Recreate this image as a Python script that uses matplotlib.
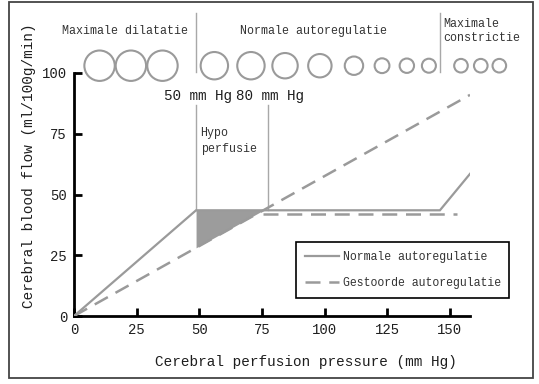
import matplotlib
matplotlib.use("Agg")
import matplotlib.pyplot as plt
import numpy as np
from matplotlib.patches import Rectangle

# ── data ──────────────────────────────────────────────────────────────────────
NORMAL_X = [0, 48.7, 146, 158]
NORMAL_Y = [0, 43.5, 43.5, 58.5]
IMPAIRED_X = [0, 158]
IMPAIRED_Y = [0, 91]
IMPAIRED_PLATEAU_X = [75.5, 153]
IMPAIRED_PLATEAU_Y = [41.8, 41.8]
HYPO_X = [48.7, 77.3]          # 50 / 80 mm Hg markers
HYPO_TOP = 87.0
SEPARATOR_X = [48.7, 146]
VESSEL_X = [10.2, 22.7, 35.3, 56.0, 70.6, 84.2, 98.1, 111.7, 122.9, 132.8,
            141.6, 154.4, 162.3, 169.7]
VESSEL_R = [16, 16, 16, 14.5, 14.5, 13.5, 12.5, 10, 8.2, 8, 7.8, 7.6, 7.6, 7.6]
XTICKS = [0, 25, 50, 75, 100, 125, 150]
YTICKS = [0, 25, 50, 75, 100]

GREY = "#9a9a9a"
INK = "#1e1e1e"
MONO = "Liberation Mono"

W, H = 539, 384


def px(x, y):
    """figure pixel (from top-left) -> figure fraction"""
    return x / W, 1 - y / H


def main() -> None:
    fig = plt.figure(figsize=(W / 100, H / 100), dpi=100, facecolor="white")
    ax = fig.add_axes([74 / W, 1 - 316 / H, 396 / W, 243 / H])
    ax.set_xlim(0, 158)
    ax.set_ylim(0, 100)

    # curves
    ax.plot(NORMAL_X, NORMAL_Y, color=GREY, lw=1.6, solid_joinstyle="miter",
            label="Normale autoregulatie", zorder=3)
    ax.plot(IMPAIRED_X, IMPAIRED_Y, color=GREY, lw=1.8, dashes=(6, 3.5),
            label="Gestoorde autoregulatie", zorder=3)
    ax.plot(IMPAIRED_PLATEAU_X, IMPAIRED_PLATEAU_Y, color=GREY, lw=1.8,
            dashes=(6, 3.5), zorder=3)

    # hypoperfusion wedge
    xs = np.linspace(HYPO_X[0], 76, 30)
    low = np.interp(xs, IMPAIRED_X, IMPAIRED_Y)
    top = np.minimum(np.interp(xs, NORMAL_X, NORMAL_Y), NORMAL_Y[1])
    ax.fill_between(xs, low, np.maximum(top, low), color="#9c9c9c", lw=0,
                    zorder=2)

    # 50 / 80 mm Hg markers
    for x in HYPO_X:
        ax.plot([x, x], [NORMAL_Y[1], HYPO_TOP], color="#a8a8a8", lw=1.0,
                zorder=2)
    ax.text(48.7 - 12.8, 90.5, "50 mm Hg", family=MONO, fontsize=10.3,
            color=INK, va="center", ha="left")
    ax.text(77.3 - 12.8, 90.5, "80 mm Hg", family=MONO, fontsize=10.3,
            color=INK, va="center", ha="left")
    ax.text(50.5, 72, "Hypo\nperfusie", family=MONO, fontsize=8.4,
            color="#333333", va="center", ha="left", linespacing=1.35)

    # regime separators and vessel circles
    for x in SEPARATOR_X:
        ax.plot([x, x], [100.4, 124.8], color="#a8a8a8", lw=1.0,
                clip_on=False)
    sizes = [(2 * (r - 0.8) * 0.72) ** 2 for r in VESSEL_R]
    ax.scatter(VESSEL_X, [103] * len(VESSEL_X), s=sizes, facecolors="none",
               edgecolors=GREY, linewidths=1.5, clip_on=False, zorder=4)
    ax.text(20.4, 117.3, "Maximale dilatatie", family=MONO, fontsize=8.4,
            color="#333333", ha="center", va="center", clip_on=False)
    ax.text(95.6, 117.3, "Normale autoregulatie", family=MONO, fontsize=8.4,
            color="#333333", ha="center", va="center", clip_on=False)
    ax.text(147.2, 117.3, "Maximale\nconstrictie", family=MONO, fontsize=8.4,
            color="#333333", ha="left", va="center", linespacing=1.25,
            clip_on=False)

    # axes styling
    for side in ("top", "right"):
        ax.spines[side].set_visible(False)
    for side in ("left", "bottom"):
        ax.spines[side].set_linewidth(2.0)
        ax.spines[side].set_color("black")
    ax.set_xticks(XTICKS)
    ax.set_yticks(YTICKS)
    ax.tick_params(direction="in", length=6, width=2.0, pad=5,
                   labelsize=10, labelcolor=INK)
    for lab in ax.get_xticklabels() + ax.get_yticklabels():
        lab.set_family(MONO)

    fig.text(*px(306, 362), "Cerebral perfusion pressure (mm Hg)",
             family=MONO, fontsize=10.4, color=INK, ha="center", va="center")
    fig.text(*px(29, 166), "Cerebral blood flow (ml/100g/min)",
             family=MONO, fontsize=10.4, color=INK, ha="center", va="center",
             rotation=90)

    leg = ax.legend(loc="upper left", bbox_to_anchor=px(296, 242),
                    bbox_transform=fig.transFigure, frameon=True,
                    fancybox=False, edgecolor="black", framealpha=1,
                    prop={"family": MONO, "size": 8.3}, handlelength=3.0,
                    handletextpad=0.3, labelspacing=1.25, borderpad=0.75,
                    borderaxespad=0)
    leg.get_frame().set_linewidth(1.2)
    for t in leg.get_texts():
        t.set_color("#333333")

    # outer frame
    fig.patches.append(Rectangle(px(9, 378), 524 / W, 376 / H,
                                 transform=fig.transFigure, fill=False,
                                 edgecolor="#444444", lw=1.3))

    fig.savefig("out.png", dpi=100, facecolor="white")


if __name__ == "__main__":
    main()
